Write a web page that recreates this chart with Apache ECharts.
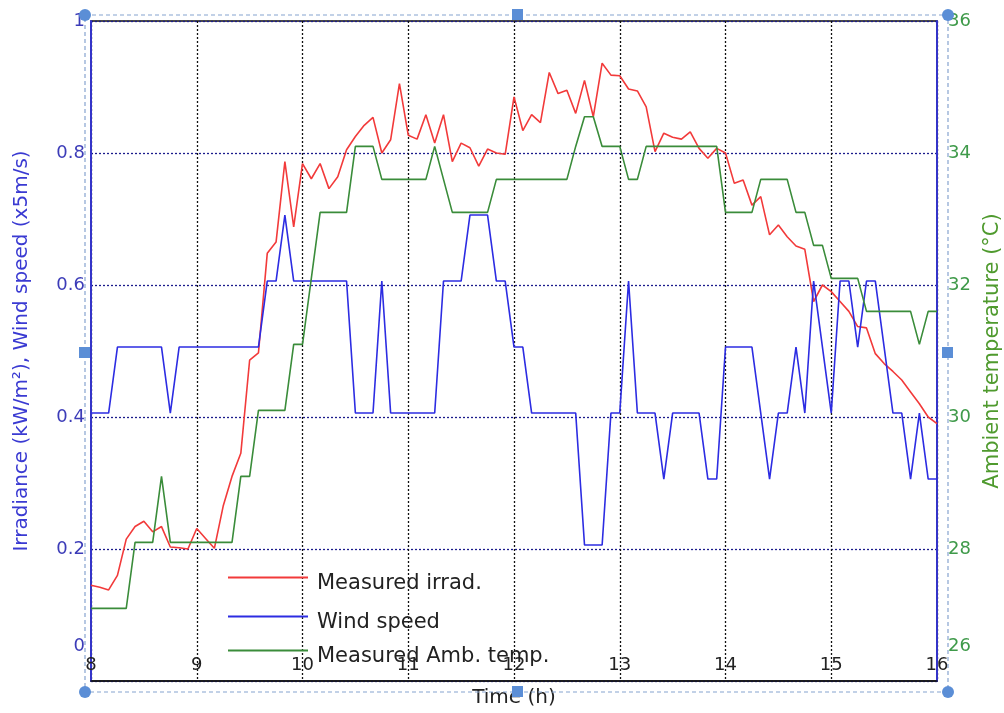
<!DOCTYPE html>
<html>
<head>
<meta charset="utf-8">
<script src="https://cdn.jsdelivr.net/npm/echarts@6/dist/echarts.min.js"></script>
<style>
html,body{margin:0;padding:0;background:#fff;}
#chart{width:1004px;height:713px;}
</style>
</head>
<body>
<div id="chart"></div>
<script>
// Sampling grid: 5-minute readings from 8:00 to 16:00
const START_HOUR = 8;
const STEP_MINUTES = 5;

// Measured irradiance (kW/m²)
const irradiance = [
  0.145,0.142,0.138,0.160,0.215,0.234,0.242,0.226,0.234,0.203,0.202,0.200,
  0.231,0.216,0.201,0.265,0.310,0.345,0.486,0.497,0.648,0.665,0.787,0.688,
  0.784,0.761,0.784,0.746,0.764,0.805,0.825,0.842,0.854,0.800,0.820,0.905,
  0.827,0.821,0.858,0.815,0.858,0.787,0.815,0.808,0.780,0.806,0.800,0.798,
  0.885,0.834,0.858,0.846,0.922,0.890,0.895,0.860,0.910,0.855,0.936,0.918,
  0.917,0.897,0.894,0.870,0.802,0.830,0.824,0.821,0.832,0.807,0.792,0.807,
  0.800,0.754,0.759,0.721,0.734,0.676,0.691,0.673,0.659,0.654,0.575,0.600,
  0.590,0.575,0.560,0.537,0.535,0.496,0.481,0.469,0.456,0.438,0.420,0.400,
  0.390
];

// Wind speed (x5 m/s)
const windSpeed = [
  0.406,0.406,0.406,0.506,0.506,0.506,0.506,0.506,0.506,0.406,0.506,0.506,
  0.506,0.506,0.506,0.506,0.506,0.506,0.506,0.506,0.606,0.606,0.706,0.606,
  0.606,0.606,0.606,0.606,0.606,0.606,0.406,0.406,0.406,0.606,0.406,0.406,
  0.406,0.406,0.406,0.406,0.606,0.606,0.606,0.706,0.706,0.706,0.606,0.606,
  0.506,0.506,0.406,0.406,0.406,0.406,0.406,0.406,0.206,0.206,0.206,0.406,
  0.406,0.606,0.406,0.406,0.406,0.306,0.406,0.406,0.406,0.406,0.306,0.306,
  0.506,0.506,0.506,0.506,0.406,0.306,0.406,0.406,0.506,0.406,0.606,0.506,
  0.406,0.606,0.606,0.506,0.606,0.606,0.506,0.406,0.406,0.306,0.406,0.306,
  0.306
];

// Ambient temperature (°C)
const ambientTemp = [
  27.1,27.1,27.1,27.1,27.1,28.1,28.1,28.1,29.1,28.1,28.1,28.1,
  28.1,28.1,28.1,28.1,28.1,29.1,29.1,30.1,30.1,30.1,30.1,31.1,
  31.1,32.1,33.1,33.1,33.1,33.1,34.1,34.1,34.1,33.6,33.6,33.6,
  33.6,33.6,33.6,34.1,33.6,33.1,33.1,33.1,33.1,33.1,33.6,33.6,
  33.6,33.6,33.6,33.6,33.6,33.6,33.6,34.1,34.55,34.55,34.1,34.1,
  34.1,33.6,33.6,34.1,34.1,34.1,34.1,34.1,34.1,34.1,34.1,34.1,
  33.1,33.1,33.1,33.1,33.6,33.6,33.6,33.6,33.1,33.1,32.6,32.6,
  32.1,32.1,32.1,32.1,31.6,31.6,31.6,31.6,31.6,31.6,31.1,31.6,
  31.6
];

const seriesNames = ['Measured irrad.', 'Wind speed', 'Measured Amb. temp.'];
const seriesColors = ['#f23a3a', '#2c2ce2', '#3a8c3a'];
const xTicks = {min: 8, max: 16, interval: 1};
const leftTicks = {min: 0, max: 1, interval: 0.2};
const rightTicks = {min: 26, max: 36, interval: 2};

const times = irradiance.map((_, i) => START_HOUR + i * STEP_MINUTES / 60);
const pair = arr => arr.map((v, i) => [times[i], v]);

const chart = echarts.init(document.getElementById('chart'), null, {renderer: 'canvas'});
const FONT = 'DejaVu Sans, Verdana, sans-serif';
const handleFill = '#5b8ed6';

function fmt(v){ return String(Math.round(v * 10) / 10); }

const legendTops = [572, 611, 645];
const legends = seriesNames.map((n, i) => ({
  data: [n],
  orient: 'vertical',
  left: 227, top: legendTops[i],
  padding: 0,
  itemWidth: 80, itemHeight: 14, itemGap: 0,
  itemStyle: {opacity: 0},
  lineStyle: {width: 2},
  formatter: name => '{t|' + name + '}',
  textStyle: {
    fontSize: 21, color: '#222', fontFamily: FONT,
    rich: {t: {fontSize: 21, color: '#222', fontFamily: FONT, padding: [12, 0, 0, 4]}}
  },
  selectedMode: false
}));

chart.setOption({
  animation: false,
  backgroundColor: '#ffffff',
  textStyle: {fontFamily: FONT},
  grid: {left: 91, right: 67, top: 21, bottom: 32, outerBoundsMode: 'none', containLabel: false,
         show: true, borderColor: '#111', borderWidth: 1.5, backgroundColor: 'transparent'},
  legend: legends,
  xAxis: {
    type: 'value', min: xTicks.min, max: xTicks.max, interval: xTicks.interval,
    name: 'Time (h)', nameLocation: 'middle', nameGap: 7,
    nameTextStyle: {fontSize: 20, color: '#222', verticalAlign: 'top', fontFamily: FONT},
    axisLine: {show: true, lineStyle: {color: '#111', width: 1.5}},
    axisTick: {show: false},
    axisLabel: {inside: true, margin: 7, fontSize: 18, color: '#222', fontFamily: FONT},
    splitLine: {show: true, lineStyle: {color: '#111', type: [2, 2], width: 1.3}}
  },
  yAxis: [
    {
      type: 'value', position: 'left', min: leftTicks.min, max: leftTicks.max, interval: leftTicks.interval,
      name: 'Irradiance (kW/m²), Wind speed (x5m/s)', nameLocation: 'middle', nameGap: 59, nameRotate: 90,
      nameTextStyle: {fontSize: 20, color: '#3a3ad2', fontFamily: FONT},
      axisLine: {show: true, lineStyle: {color: '#3434c8', width: 2}},
      axisTick: {show: false},
      axisLabel: {
        margin: 6, fontSize: 18, color: '#3c3cb8', fontFamily: FONT,
        formatter: v => v === 0 ? '{low|0}' : fmt(v),
        rich: {low: {fontSize: 18, color: '#3c3cb8', fontFamily: FONT, padding: [0, 0, 70, 0]}}
      },
      splitLine: {show: true, lineStyle: {color: '#1c1c8c', type: [2, 2], width: 1.3}}
    },
    {
      type: 'value', position: 'right', min: rightTicks.min, max: rightTicks.max, interval: rightTicks.interval,
      name: 'Ambient temperature (°C)', nameLocation: 'middle', nameGap: 45, nameRotate: 90,
      nameTextStyle: {fontSize: 21, color: '#4f9a2e', fontFamily: FONT},
      axisLine: {show: true, lineStyle: {color: '#3434c8', width: 2}},
      axisTick: {show: false},
      axisLabel: {
        margin: 11, fontSize: 18, color: '#3f9a4a', fontFamily: FONT,
        formatter: v => v === 26 ? '{low|26}' : String(v),
        rich: {low: {fontSize: 18, color: '#3f9a4a', fontFamily: FONT, padding: [0, 0, 70, 0]}}
      },
      splitLine: {show: false}
    }
  ],
  series: [
    {name: seriesNames[0], type: 'line', yAxisIndex: 0, data: pair(irradiance), symbol: 'none',
     lineStyle: {color: seriesColors[0], width: 1.6}, itemStyle: {color: seriesColors[0]}, z: 3},
    {name: seriesNames[1], type: 'line', yAxisIndex: 0, data: pair(windSpeed), symbol: 'none',
     lineStyle: {color: seriesColors[1], width: 1.6}, itemStyle: {color: seriesColors[1]}, z: 4},
    {name: seriesNames[2], type: 'line', yAxisIndex: 1, data: pair(ambientTemp), symbol: 'none',
     lineStyle: {color: seriesColors[2], width: 1.6}, itemStyle: {color: seriesColors[2]}, z: 5}
  ],
  graphic: [
    {type: 'rect', shape: {x: 85, y: 15, width: 863, height: 677}, silent: true, z: 50,
     style: {fill: 'none', stroke: '#86a3cf', lineWidth: 1.2, lineDash: [4, 3]}},
    {type: 'circle', shape: {cx: 85, cy: 15, r: 6}, style: {fill: handleFill}, z: 51, silent: true},
    {type: 'circle', shape: {cx: 948, cy: 15, r: 6}, style: {fill: handleFill}, z: 51, silent: true},
    {type: 'circle', shape: {cx: 85, cy: 692, r: 6}, style: {fill: handleFill}, z: 51, silent: true},
    {type: 'circle', shape: {cx: 948, cy: 692, r: 6}, style: {fill: handleFill}, z: 51, silent: true},
    {type: 'rect', shape: {x: 512, y: 9, width: 11, height: 11}, style: {fill: handleFill}, z: 51, silent: true},
    {type: 'rect', shape: {x: 512, y: 686, width: 11, height: 11}, style: {fill: handleFill}, z: 51, silent: true},
    {type: 'rect', shape: {x: 79, y: 347, width: 11, height: 11}, style: {fill: handleFill}, z: 51, silent: true},
    {type: 'rect', shape: {x: 942, y: 347, width: 11, height: 11}, style: {fill: handleFill}, z: 51, silent: true}
  ]
});
</script>
</body>
</html>
